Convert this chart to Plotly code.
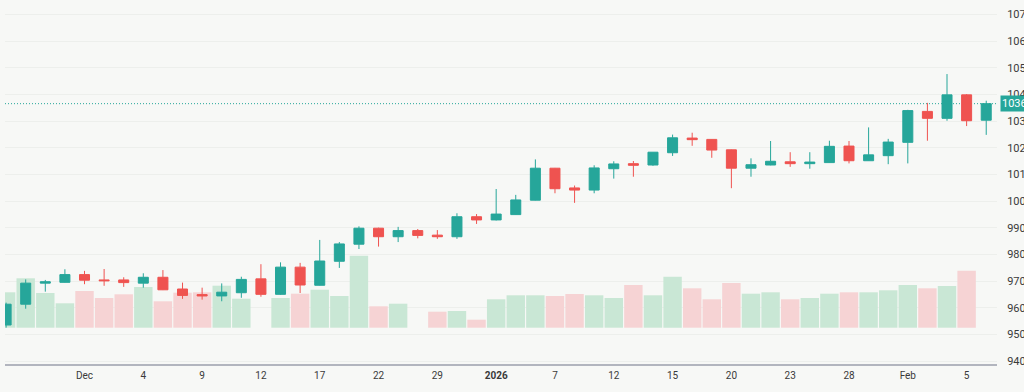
import plotly.graph_objects as go

dates = [
    "2025-11-24", "2025-11-25", "2025-11-26", "2025-11-28", "2025-12-01", "2025-12-02",
    "2025-12-03", "2025-12-04", "2025-12-05", "2025-12-08", "2025-12-09", "2025-12-10",
    "2025-12-11", "2025-12-12", "2025-12-15", "2025-12-16", "2025-12-17", "2025-12-18",
    "2025-12-19", "2025-12-22", "2025-12-23", "2025-12-24", "2025-12-29", "2025-12-30",
    "2025-12-31", "2026-01-02", "2026-01-05", "2026-01-06", "2026-01-07", "2026-01-08",
    "2026-01-09", "2026-01-12", "2026-01-13", "2026-01-14", "2026-01-15", "2026-01-16",
    "2026-01-19", "2026-01-20", "2026-01-21", "2026-01-22", "2026-01-23", "2026-01-26",
    "2026-01-27", "2026-01-28", "2026-01-29", "2026-01-30", "2026-02-02", "2026-02-03",
    "2026-02-04", "2026-02-05", "2026-02-06",
]

open_ = [9535, 9613, 9692, 9695, 9724, 9704, 9704, 9692, 9714, 9670, 9649, 9644, 9656, 9708,
         9650, 9752, 9684, 9774, 9838, 9898, 9866, 9889, 9872, 9866, 9941, 9929, 9949, 10003,
         10123, 10049, 10041, 10121, 10140, 10135, 10181, 10236, 10231, 10192, 10123, 10135,
         10147, 10140, 10144, 10206, 10151, 10170, 10220, 10336, 10310, 10398, 10303]
high = [9619, 9706, 9704, 9744, 9738, 9745, 9714, 9729, 9741, 9694, 9675, 9691, 9716, 9763,
        9770, 9768, 9854, 9846, 9905, 9900, 9903, 9895, 9891, 9954, 9951, 10045, 10023, 10156,
        10124, 10058, 10134, 10149, 10150, 10183, 10249, 10256, 10232, 10193, 10160, 10225,
        10183, 10183, 10226, 10225, 10276, 10233, 10342, 10368, 10476, 10401, 10376]
low = [9525, 9596, 9660, 9694, 9688, 9682, 9678, 9675, 9666, 9633, 9630, 9624, 9637, 9641,
       9648, 9655, 9683, 9749, 9820, 9829, 9846, 9860, 9858, 9858, 9914, 9927, 9948, 10002,
       10029, 9993, 10029, 10084, 10091, 10132, 10169, 10207, 10162, 10048, 10091, 10134,
       10128, 10121, 10143, 10141, 10150, 10138, 10141, 10226, 10301, 10281, 10248]
close = [9613, 9692, 9697, 9724, 9703, 9701, 9694, 9714, 9667, 9646, 9644, 9658, 9706, 9650,
         9752, 9685, 9775, 9839, 9898, 9866, 9889, 9871, 9866, 9941, 9929, 9951, 10004, 10123,
         10046, 10041, 10124, 10139, 10134, 10183, 10237, 10230, 10191, 10123, 10136, 10149,
         10140, 10146, 10205, 10151, 10173, 10221, 10339, 10310, 10398, 10301, 10365]
volume = [354, 494, 347, 244, 367, 297, 334, 407, 264, 350, 354, 420, 290, 0, 297, 340, 380,
          317, 720, 214, 240, 0, 160, 167, 80, 284, 324, 324, 317, 337, 324, 297, 427, 324,
          510, 394, 284, 447, 340, 354, 284, 297, 340, 354, 354, 374, 427, 394, 417, 570, 0]

tick_dates = ["2025-12-01", "2025-12-04", "2025-12-09", "2025-12-12", "2025-12-17",
              "2025-12-22", "2025-12-29", "2026-01-02", "2026-01-07", "2026-01-12",
              "2026-01-15", "2026-01-20", "2026-01-23", "2026-01-28", "2026-02-02",
              "2026-02-05"]
tick_text = ["Dec", "4", "9", "12", "17", "22", "29", "<b>2026</b>", "7", "12", "15", "20",
             "23", "28", "Feb", "5"]
price_ticks = list(range(9400, 10800, 100))

UP = "#26a69a"
DOWN = "#ef5350"
VOL_UP = "#c9e7d5"
VOL_DOWN = "#f6d3d4"
BG = "#f7f8f6"

vol_colors = [VOL_UP if c >= o else VOL_DOWN for o, c in zip(open_, close)]

fig = go.Figure()
# volume on the base axis (drawn underneath)
fig.add_trace(go.Bar(
    x=dates, y=volume, marker=dict(color=vol_colors, line=dict(width=0)),
    yaxis="y", showlegend=False, hoverinfo="skip",
))
# candles on the overlaying price axis (drawn on top)
fig.add_trace(go.Candlestick(
    x=dates, open=open_, high=high, low=low, close=close, yaxis="y2",
    increasing=dict(line=dict(color=UP, width=1), fillcolor=UP),
    decreasing=dict(line=dict(color=DOWN, width=1), fillcolor=DOWN),
    whiskerwidth=0, showlegend=False,
))

last = close[-1]
fig.add_shape(type="line", xref="paper", x0=0, x1=1, yref="y2", y0=last, y1=last,
              line=dict(color=UP, width=1, dash="1px,2px"), layer="below")
fig.add_annotation(xref="paper", x=1.003, xanchor="left", yref="y2", y=last,
                   text=str(last), showarrow=False, bgcolor=UP, borderpad=1,
                   font=dict(color="white", size=11, family="Roboto"))

fig.update_layout(
    width=1024, height=392,
    margin=dict(l=5, r=27, t=0, b=28, autoexpand=False),
    paper_bgcolor=BG, plot_bgcolor=BG,
    boxgap=0.27, bargap=0.06,
    font=dict(family="Roboto", size=11, color="#3a3a3a"),
    xaxis=dict(
        type="category", categoryorder="array", categoryarray=dates,
        range=[-0.056, 50.55], rangeslider=dict(visible=False), automargin=False,
        tickmode="array", tickvals=tick_dates, ticktext=tick_text,
        showgrid=False, zeroline=False,
        showline=True, linecolor="#b2b5be", linewidth=2,
        ticks="outside", ticklen=1, tickcolor="rgba(0,0,0,0)",
        tickfont=dict(size=10),
    ),
    yaxis=dict(
        range=[-363, 3277], visible=False, showgrid=False, zeroline=False,
        automargin=False,
    ),
    yaxis2=dict(
        overlaying="y", side="right", range=[9388.75, 10753.75], tickmode="array",
        tickvals=price_ticks, ticktext=[str(v) for v in price_ticks], automargin=False,
        showgrid=True, gridcolor="#edefec", gridwidth=1, zeroline=False,
        ticks="outside", ticklen=7, tickcolor="rgba(0,0,0,0)",
        tickfont=dict(size=11),
    ),
)

fig.write_html("out.html", config={"displayModeBar": False},
               post_script="document.body.style.margin='0';")
